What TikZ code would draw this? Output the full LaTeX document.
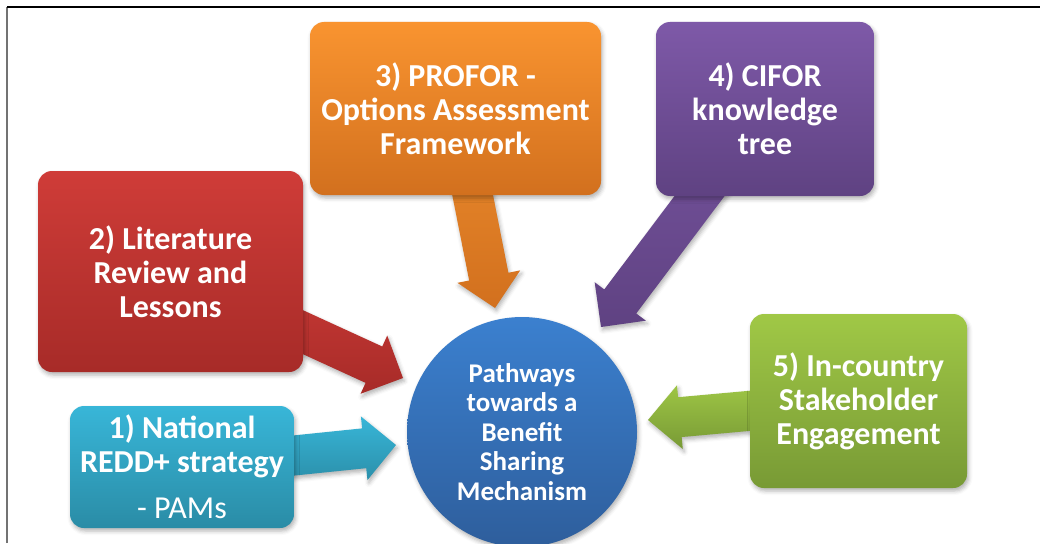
\documentclass[tikz,border=0pt]{standalone}
\usepackage{fontspec}
\setmainfont{Carlito}
\usetikzlibrary{calc,shadows.blur}
\definecolor{profortop}{HTML}{F99430}
\definecolor{proforbot}{HTML}{D2701E}
\definecolor{cifortop}{HTML}{7E59A8}
\definecolor{ciforbot}{HTML}{5F4282}
\definecolor{littop}{HTML}{CF3C38}
\definecolor{litbot}{HTML}{A72B28}
\definecolor{reddtop}{HTML}{38B6D8}
\definecolor{reddbot}{HTML}{2A8CA6}
\definecolor{staketop}{HTML}{A0C846}
\definecolor{stakebot}{HTML}{789A35}
\definecolor{hubtop}{HTML}{3B80CF}
\definecolor{hubbot}{HTML}{2E5E9C}

% fat block arrow: #1 start node, #2 tip coordinate, #3/#4 shading colours
\newcommand{\fatarrow}[4]{%
  \coordinate (hb) at ($(#2)!32pt!(#1)$);
  \shade[top color=#3, bottom color=#4, softshadow]
    ($(#1)!20pt!90:(#2)$) -- ($(hb)!20pt!90:(#2)$) -- ($(hb)!32pt!90:(#2)$) -- (#2)
    -- ($(hb)!32pt!-90:(#2)$) -- ($(hb)!20pt!-90:(#2)$) -- ($(#1)!20pt!-90:(#2)$) -- cycle;}

\begin{document}
\begin{tikzpicture}[x=1pt, y=-1pt,
  softshadow/.style={blur shadow={shadow xshift=1.5pt, shadow yshift=-3pt, shadow blur radius=4pt, shadow opacity=30}},
  box/.style={rounded corners=14pt, inner sep=0pt, align=center, text=white, softshadow,
    font=\bfseries\fontsize{32}{34}\selectfont}]
\useasboundingbox (0,0) rectangle (1040,543);
% page frame
\draw[black!55, line width=1.2pt] (7,543) -- (7,7);
\draw[black, line width=1.5pt] (7,7) -- (1040,7);

% arrow tips, just short of the hub
\coordinate (tprofor) at (495,308);
\coordinate (tcifor) at (601,327);
\coordinate (tlit) at (403,378);
\coordinate (tredd) at (396,445);
\coordinate (tstake) at (648,420);

% box centres, the arrows start there and run under the boxes
\path (455.5,108.5) coordinate (profor) (765,109) coordinate (cifor)
  (170.5,271.5) coordinate (lit) (182,467) coordinate (redd) (858.5,401) coordinate (stake);

\fatarrow{profor}{tprofor}{profortop!95!black}{proforbot}
\fatarrow{cifor}{tcifor}{cifortop!95!black}{ciforbot}
\fatarrow{lit}{tlit}{littop}{litbot}
\fatarrow{redd}{tredd}{reddtop}{reddbot}
\fatarrow{stake}{tstake}{staketop}{stakebot}

\node[box, top color=profortop, bottom color=proforbot, minimum width=291pt, minimum height=173pt]
  (proforbox) at (profor) {3) PROFOR -\\Options Assessment\\Framework};
\node[box, top color=cifortop, bottom color=ciforbot, minimum width=218pt, minimum height=174pt]
  (ciforbox) at (cifor) {4) CIFOR\\knowledge\\tree};
\node[box, top color=littop, bottom color=litbot, minimum width=265pt, minimum height=201pt]
  (litbox) at (lit) {2) Literature\\Review and\\Lessons};
\node[box, top color=reddtop, bottom color=reddbot, minimum width=224pt, minimum height=122pt]
  (reddbox) at (redd) {1) National\\REDD+ strategy\\[12pt]{\mdseries - PAMs}};
\node[box, top color=staketop, bottom color=stakebot, minimum width=217pt, minimum height=174pt]
  (stakebox) at (stake) {5) In-country\\Stakeholder\\Engagement};

% the hub
\node[circle, top color=hubtop, bottom color=hubbot, minimum size=230pt, inner sep=0pt, softshadow,
  text=white, align=center, font=\bfseries\fontsize{27}{29.5}\selectfont]
  (hub) at (522,432) {Pathways\\towards a\\Benefit\\Sharing\\Mechanism};
\end{tikzpicture}
\end{document}
